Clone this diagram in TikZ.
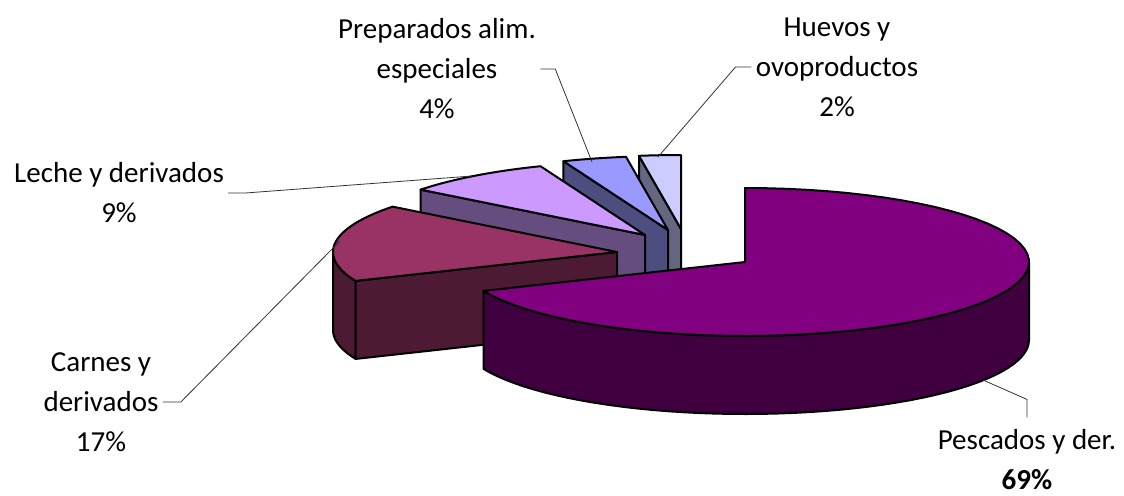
\documentclass[tikz,border=0pt]{standalone}
\usepackage{fontspec}
\setmainfont{Carlito}

\definecolor{pescTop}{HTML}{800080}
\definecolor{pescSide}{HTML}{400040}
\definecolor{carnTop}{HTML}{993366}
\definecolor{carnSide}{HTML}{4D1A33}
\definecolor{lechTop}{HTML}{CC99FF}
\definecolor{lechSide}{HTML}{664D80}
\definecolor{prepTop}{HTML}{9999FF}
\definecolor{prepSide}{HTML}{4D4D80}
\definecolor{huevTop}{HTML}{CCCCFF}
\definecolor{huevSide}{HTML}{666680}

% pie radii and height, in pixels
\newcommand{\pieRX}{284}
\newcommand{\pieRY}{74}
\newcommand{\pieDP}{78}

% top face: centre x, centre y, from angle, to angle, colour
\newcommand{\pietop}[5]{%
  \filldraw[slice,fill=#5] (#1,#2) -- plot[domain=#3:#4,samples=60]
    ({#1+\pieRX*cos(\x)},{#2-\pieRY*sin(\x)}) -- cycle;}
% outer rim: centre x, centre y, from angle, to angle, colour
\newcommand{\pierim}[5]{%
  \filldraw[slice,fill=#5] plot[domain=#3:#4,samples=50]
    ({#1+\pieRX*cos(\x)},{#2-\pieRY*sin(\x)}) --
    plot[domain=#4:#3,samples=50]
    ({#1+\pieRX*cos(\x)},{#2+\pieDP-\pieRY*sin(\x)}) -- cycle;}
% cut face: centre x, centre y, angle, colour
\newcommand{\piecut}[4]{%
  \filldraw[slice,fill=#4] (#1,#2) -- ({#1+\pieRX*cos(#3)},{#2-\pieRY*sin(#3)})
    -- ++(0,\pieDP) -- (#1,{#2+\pieDP}) -- cycle;}

\begin{document}
\begin{tikzpicture}[x=0.5pt,y=-0.5pt,
    slice/.style={draw=black, line width=1pt, line join=round},
    lbl/.style={align=center, inner sep=2pt, font=\fontsize{14.5}{20}\selectfont},
    leader/.style={draw=black!80, line width=0.4pt}]
    \useasboundingbox (0,0) rectangle (1124,495);

    % Huevos y ovoproductos
    \piecut{681}{229}{98.5}{huevSide}
    \pietop{681}{229}{90}{98.5}{huevTop}
    % Preparados alim. especiales
    \piecut{668}{230}{111.6}{prepSide}
    \pietop{668}{230}{98.5}{111.6}{prepTop}
    % Leche y derivados
    \piecut{645}{235}{142.2}{lechSide}
    \pietop{645}{235}{111.6}{142.2}{lechTop}
    % Carnes y derivados
    \pierim{617}{252}{180}{203}{carnSide}
    \piecut{617}{252}{203}{carnSide}
    \pietop{617}{252}{142.2}{203}{carnTop}
    % Pescados y der.
    \pierim{745}{262}{203}{360}{pescSide}
    \pietop{745}{262}{203}{450}{pescTop}

    \node[lbl] (prepLbl) at (437,69) {Preparados alim.\\especiales\\4\%};
    \node[lbl] (huevLbl) at (837,67) {Huevos y\\ovoproductos\\2\%};
    \node[lbl] (lechLbl) at (119,193) {Leche y derivados\\9\%};
    \node[lbl] (carnLbl) at (101,402) {Carnes y\\derivados\\17\%};
    \node[lbl,inner ysep=6pt] (pescLbl) at (1027,460) {Pescados y der.\\\textbf{69\%}};

    \coordinate (prepTip) at (592,162);
    \coordinate (huevTip) at (658,157);
    \coordinate (lechTip) at (472,176);
    \coordinate (carnTip) at (340,241);
    \coordinate (pescTip) at (983,380);

    \draw[leader] (prepLbl.east) -- ++(15,0) -- (prepTip);
    \draw[leader] (huevLbl.west) -- ++(-16,0) -- (huevTip);
    \draw[leader] (lechLbl.east) -- ++(17,0) -- (lechTip);
    \draw[leader] (carnLbl.east) -- ++(18,0) -- (carnTip);
    \draw[leader] (pescLbl.north) -- ++(0,-18) -- (pescTip);
\end{tikzpicture}
\end{document}
